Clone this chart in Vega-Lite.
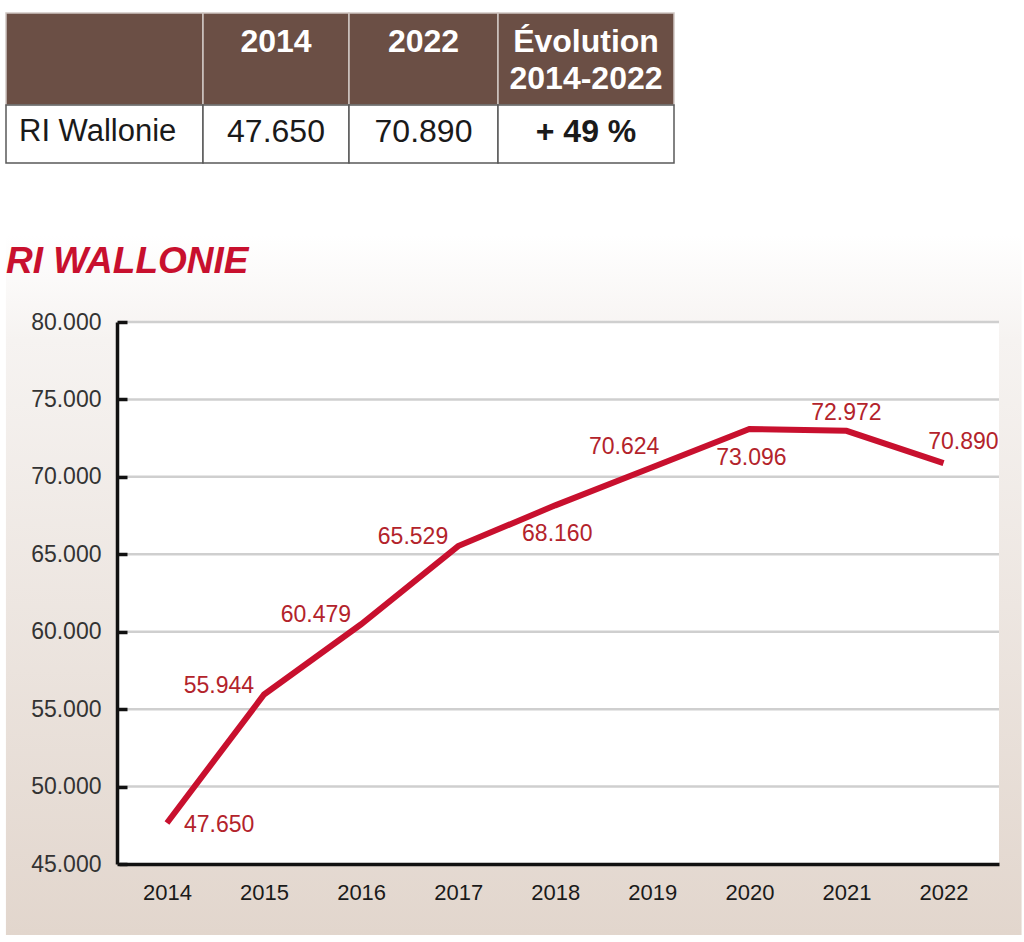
{
  "$schema": "https://vega.github.io/schema/vega-lite/v6.json",
  "background": "white",
  "padding": {"left": 5, "top": 12, "right": 0, "bottom": 0},
  "spacing": 70,
  "config": {
    "view": {"stroke": null},
    "locale": {"number": {"decimal": ",", "thousands": ".", "grouping": [3], "currency": ["", " €"]}}
  },
  "datasets": {
    "ri": [
      {"year": 2014, "value": 47650},
      {"year": 2015, "value": 55944},
      {"year": 2016, "value": 60479},
      {"year": 2017, "value": 65529},
      {"year": 2018, "value": 68160},
      {"year": 2019, "value": 70624},
      {"year": 2020, "value": 73096},
      {"year": 2021, "value": 72972},
      {"year": 2022, "value": 70890}
    ],
    "table": [
      {"row": 0, "col": 0, "part": "header", "text": ""},
      {"row": 0, "col": 1, "part": "header", "text": "2014"},
      {"row": 0, "col": 2, "part": "header", "text": "2022"},
      {"row": 0, "col": 3, "part": "header", "text": "Évolution\n2014-2022"},
      {"row": 1, "col": 0, "part": "body", "text": "RI Wallonie"},
      {"row": 1, "col": 1, "part": "body", "text": "47.650"},
      {"row": 1, "col": 2, "part": "body", "text": "70.890"},
      {"row": 1, "col": 3, "part": "body", "text": "+ 49 %"}
    ],
    "grid": [
      {"tick": 50000}, {"tick": 55000}, {"tick": 60000}, {"tick": 65000},
      {"tick": 70000}, {"tick": 75000}, {"tick": 80000}
    ]
  },
  "vconcat": [
    {
      "width": 668,
      "height": 150,
      "data": {"name": "table"},
      "transform": [
        {"calculate": "datum.col + 1", "as": "colEnd"},
        {"calculate": "datum.row + 1", "as": "rowEnd"},
        {"calculate": "datum.col + 0.5", "as": "colMid"},
        {"calculate": "datum.row + 0.5", "as": "rowMid"}
      ],
      "layer": [
        {
          "transform": [{"filter": "datum.part === 'header'"}],
          "mark": {"type": "rect", "fill": "#6b4f45", "stroke": "#cfc6c2", "strokeWidth": 1.5},
          "encoding": {
            "x": {"field": "col", "type": "quantitative", "scale": {"domain": [0, 1, 2, 3, 4], "range": [-113, 84, 230, 379, 555]}, "axis": null},
            "x2": {"field": "colEnd"},
            "y": {"field": "row", "type": "quantitative", "scale": {"domain": [0, 1, 2], "range": [0, 92, 150]}, "axis": null},
            "y2": {"field": "rowEnd"}
          }
        },
        {
          "transform": [{"filter": "datum.part === 'body'"}],
          "mark": {"type": "rect", "fill": "#ffffff", "stroke": "#5a5a5a", "strokeWidth": 1.5},
          "encoding": {
            "x": {"field": "col", "type": "quantitative"},
            "x2": {"field": "colEnd"},
            "y": {"field": "row", "type": "quantitative"},
            "y2": {"field": "rowEnd"}
          }
        },
        {
          "transform": [{"filter": "datum.part === 'header'"}],
          "mark": {"type": "text", "font": "Liberation Sans", "fontSize": 32, "fontWeight": "bold", "color": "#ffffff", "align": "center", "baseline": "top", "dy": 14, "lineBreak": "\n", "lineHeight": 37},
          "encoding": {
            "x": {"field": "colMid", "type": "quantitative"},
            "y": {"field": "row", "type": "quantitative"},
            "text": {"field": "text", "type": "nominal"}
          }
        },
        {
          "transform": [{"filter": "datum.part === 'body' && datum.col === 0"}],
          "mark": {"type": "text", "font": "Liberation Sans", "fontSize": 31, "color": "#1a1a1a", "align": "left", "baseline": "middle", "dx": 13, "dy": -2},
          "encoding": {
            "x": {"field": "col", "type": "quantitative"},
            "y": {"field": "rowMid", "type": "quantitative"},
            "text": {"field": "text", "type": "nominal"}
          }
        },
        {
          "transform": [{"filter": "datum.part === 'body' && (datum.col === 1 || datum.col === 2)"}],
          "mark": {"type": "text", "font": "Liberation Sans", "fontSize": 32, "color": "#1a1a1a", "align": "center", "baseline": "middle", "dy": -2},
          "encoding": {
            "x": {"field": "colMid", "type": "quantitative"},
            "y": {"field": "rowMid", "type": "quantitative"},
            "text": {"field": "text", "type": "nominal"}
          }
        },
        {
          "transform": [{"filter": "datum.part === 'body' && datum.col === 3"}],
          "mark": {"type": "text", "font": "Liberation Sans", "fontSize": 32, "fontWeight": "bold", "color": "#1a1a1a", "align": "center", "baseline": "middle", "dy": -2},
          "encoding": {
            "x": {"field": "colMid", "type": "quantitative"},
            "y": {"field": "rowMid", "type": "quantitative"},
            "text": {"field": "text", "type": "nominal"}
          }
        }
      ]
    },
    {
      "width": 880,
      "height": 542,
      "title": {
        "text": "RI WALLONIE",
        "anchor": "start",
        "frame": "bounds",
        "font": "Liberation Sans",
        "fontSize": 37,
        "fontStyle": "italic",
        "fontWeight": "bold",
        "color": "#c8102e",
        "baseline": "top",
        "offset": -46
      },
      "layer": [
        {
          "data": {"values": [{}]},
          "mark": {
            "type": "rect",
            "fill": {"gradient": "linear", "x1": 0, "y1": 0, "x2": 0, "y2": 1,
              "stops": [{"offset": 0, "color": "#ffffff"}, {"offset": 0.15, "color": "#f6f3f1"}, {"offset": 1, "color": "#e2d6cd"}]}
          },
          "encoding": {
            "x": {"datum": 2012.341, "type": "quantitative", "scale": {"domain": [2013.5058, 2022.5714], "nice": false, "zero": false},
              "axis": {"values": [2014, 2015, 2016, 2017, 2018, 2019, 2020, 2021, 2022], "format": "d", "title": null, "grid": false, "ticks": false,
                "domainColor": "#111111", "domainWidth": 3.5, "labelFont": "Liberation Sans", "labelFontSize": 22, "labelColor": "#1a1a1a", "labelPadding": 18, "zindex": 1}},
            "x2": {"datum": 2022.804},
            "y": {"datum": 85620, "type": "quantitative", "scale": {"domain": [45000, 80000], "nice": false, "zero": false},
              "axis": {"values": [45000, 50000, 55000, 60000, 65000, 70000, 75000, 80000], "format": ",d", "title": null, "grid": false, "offset": 2,
                "domainColor": "#111111", "domainWidth": 3.5, "tickColor": "#111111", "tickWidth": 3.5, "tickSize": -10,
                "labelFont": "Liberation Sans", "labelFontSize": 23, "labelColor": "#333333", "labelPadding": 26, "zindex": 1}},
            "y2": {"datum": 40413}
          }
        },
        {
          "data": {"values": [{}]},
          "mark": {"type": "rect", "fill": "#ffffff"},
          "encoding": {
            "x": {"datum": 2013.5058, "type": "quantitative"},
            "x2": {"datum": 2022.5714},
            "y": {"datum": 45000, "type": "quantitative"},
            "y2": {"datum": 80000}
          }
        },
        {
          "data": {"name": "grid"},
          "mark": {"type": "rule", "color": "#cfcfcf", "strokeWidth": 2.5},
          "encoding": {"y": {"field": "tick", "type": "quantitative"}}
        },
        {
          "data": {"name": "ri"},
          "mark": {"type": "line", "color": "#c8102e", "strokeWidth": 6, "strokeJoin": "miter"},
          "encoding": {
            "x": {"field": "year", "type": "quantitative"},
            "y": {"field": "value", "type": "quantitative"}
          }
        },
        {
          "data": {"name": "ri"},
          "transform": [{"filter": "datum.year === 2014"}],
          "mark": {"type": "text", "font": "Liberation Sans", "fontSize": 23, "color": "#b3232b", "align": "left", "baseline": "middle", "dx": 17, "dy": 2},
          "encoding": {"x": {"field": "year", "type": "quantitative"}, "y": {"field": "value", "type": "quantitative"}, "text": {"field": "value", "type": "quantitative", "format": ",d"}}
        },
        {
          "data": {"name": "ri"},
          "transform": [{"filter": "datum.year >= 2015 && datum.year <= 2017"}],
          "mark": {"type": "text", "font": "Liberation Sans", "fontSize": 23, "color": "#b3232b", "align": "right", "baseline": "middle", "dx": -10, "dy": -9},
          "encoding": {"x": {"field": "year", "type": "quantitative"}, "y": {"field": "value", "type": "quantitative"}, "text": {"field": "value", "type": "quantitative", "format": ",d"}}
        },
        {
          "data": {"name": "ri"},
          "transform": [{"filter": "datum.year === 2018 || datum.year === 2020"}],
          "mark": {"type": "text", "font": "Liberation Sans", "fontSize": 23, "color": "#b3232b", "align": "center", "baseline": "middle", "dx": 2, "dy": 29},
          "encoding": {"x": {"field": "year", "type": "quantitative"}, "y": {"field": "value", "type": "quantitative"}, "text": {"field": "value", "type": "quantitative", "format": ",d"}}
        },
        {
          "data": {"name": "ri"},
          "transform": [{"filter": "datum.year === 2021"}],
          "mark": {"type": "text", "font": "Liberation Sans", "fontSize": 23, "color": "#b3232b", "align": "center", "baseline": "middle", "dy": -18},
          "encoding": {"x": {"field": "year", "type": "quantitative"}, "y": {"field": "value", "type": "quantitative"}, "text": {"field": "value", "type": "quantitative", "format": ",d"}}
        },
        {
          "data": {"name": "ri"},
          "transform": [{"filter": "datum.year === 2019"}],
          "mark": {"type": "text", "font": "Liberation Sans", "fontSize": 23, "color": "#b3232b", "align": "right", "baseline": "middle", "dx": 7, "dy": -20},
          "encoding": {"x": {"field": "year", "type": "quantitative"}, "y": {"field": "value", "type": "quantitative"}, "text": {"field": "value", "type": "quantitative", "format": ",d"}}
        },
        {
          "data": {"name": "ri"},
          "transform": [{"filter": "datum.year === 2022"}],
          "mark": {"type": "text", "font": "Liberation Sans", "fontSize": 23, "color": "#b3232b", "align": "right", "baseline": "middle", "dx": 55, "dy": -21},
          "encoding": {"x": {"field": "year", "type": "quantitative"}, "y": {"field": "value", "type": "quantitative"}, "text": {"field": "value", "type": "quantitative", "format": ",d"}}
        }
      ]
    }
  ]
}
